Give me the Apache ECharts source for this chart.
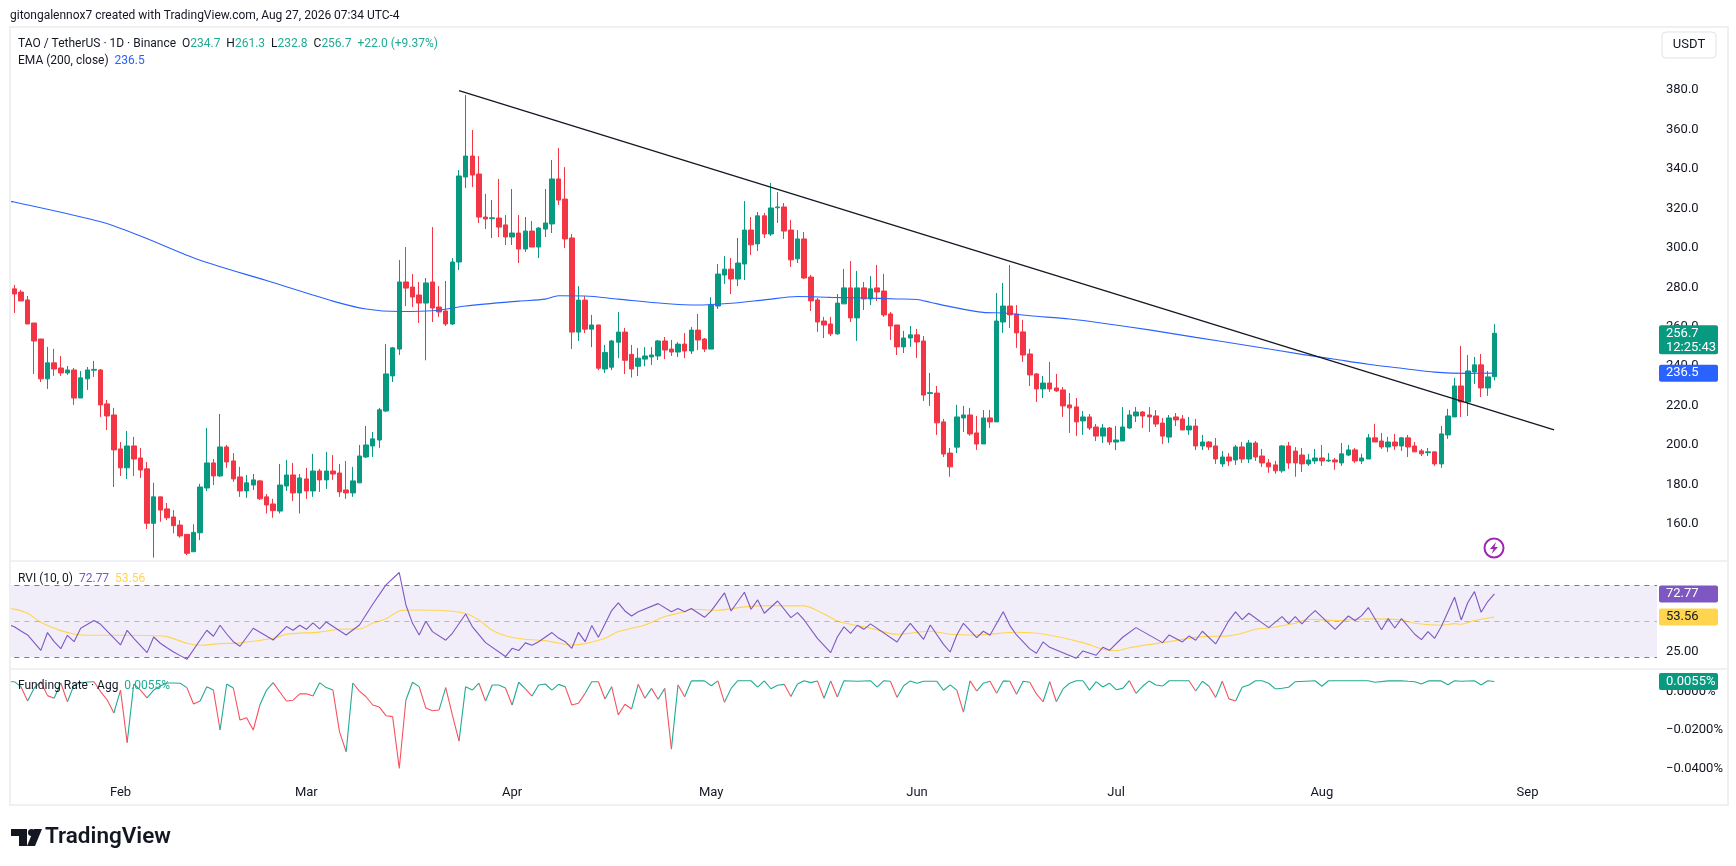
<!DOCTYPE html>
<html><head><meta charset="utf-8">
<style>html,body{margin:0;padding:0;background:#fff}#c{width:1736px;height:866px}</style>
<script src="https://cdn.jsdelivr.net/npm/echarts@6/dist/echarts.min.js"></script>
</head><body><div id="c"></div>
<script>
const monthLabels = {16:'Feb',44:'Mar',75:'Apr',105:'May',136:'Jun',166:'Jul',197:'Aug',228:'Sep'};
const slotCount = 249;
// open, close, low, high
const ohlc = [
[279.2,276.6,267,281.2],[277.6,273.1,273.1,278.7],[273.6,261.4,261.4,275.6],[261.9,252.8,236.1,261.9],[253.8,233.6,232,253.8],
[233.6,241.7,228.5,249.8],[241.7,238.6,235.1,248.8],[239.1,236.6,235.1,245.2],[236.6,238.1,235.6,240.1],[238.1,223.9,220.4,239.1],
[223.9,234.1,223.9,237.6],[233.6,238.1,228,239.6],[238,238.4,234.6,242.7],[238.1,220.4,214.3,238.6],[220.9,214.8,207.7,222.9],
[215.3,197.6,178.8,218.9],[198.1,188.5,184.4,201.6],[188.5,199.6,182.9,207.2],[199.6,193,184.4,204.2],[193.5,187.4,183.4,198.6],
[188,160.4,157.5,191.5],[160.4,173.8,143,180.9],[173.8,167.1,161.2,173.8],[167.7,163.2,162,170.7],[163.6,159.2,155.3,167.1],
[159.5,154,153.1,162],[154.8,145.2,144.3,154.8],[146,155.8,146,159.9],[155.6,178.8,151.9,180.4],[178.3,191,176.8,208.7],
[191,184.4,179.8,193],[184.4,199.1,183.9,215.8],[199.1,191.5,188.5,200.1],[192,182.9,181.4,196],[183.9,176.8,173.8,189],
[176.8,180.9,173.3,184.9],[179.8,182.4,177.3,185.4],[181.9,172.8,172.2,182.4],[173.8,169.7,165.4,175.3],[170.2,166.8,163.2,172.8],
[166.6,179.8,165.4,190.5],[179.3,184.9,176.8,192.5],[184.9,175.8,171.7,191],[175.8,183.4,165.4,185.4],[182.9,176.8,172.8,188.5],
[176.8,186.9,173.8,195.6],[186.9,182.4,176.3,188],[182.4,186.9,177.8,196.6],[186.9,185.4,182.4,195],[185.9,176.3,173.8,190.5],
[177.3,175.8,172.8,192],[175.8,181.9,173.8,189],[180.9,194.5,180.9,200.1],[194,200.1,193.5,209.7],[199.6,203.2,194,206.7],
[202.6,217.9,198.6,218.9],[217.3,236.1,216.8,251.3],[235.1,249.3,232,249.8],[248.7,282.7,245.7,293.8],[282.7,279.6,270.5,300.4],
[280.1,275.1,270,286.7],[276.1,272,261.9,282.7],[272,282.2,243,284.7],[282.7,269.5,262.4,310.5],[270,267.5,265,280.6],
[268,261.4,260.4,283.2],[261.4,292.8,260.9,294.8],[292.8,336.4,288.8,339.4],[335.9,346.5,330.3,377.4],[346.5,336.9,330.8,359.7],
[337.4,315.6,312.6,346.5],[315.6,314.6,309.5,327.3],[314.8,315.2,305,324.2],[315.1,310.5,305.5,334.9],[311.6,305.5,301.4,316.6],
[305.5,307.5,301.4,329.8],[307.5,299.4,292.3,316.6],[299.4,308.5,297.9,315.6],[308.5,300.4,300.4,313.6],[300.4,310,294.8,310.5],
[309.5,312.6,305.5,329.8],[312.1,334.9,307.5,344.5],[334.9,324.2,321.7,350.6],[324.7,304.5,299.9,340.9],[305,257.3,248.7,307],
[257.3,273.5,252.8,280.6],[273.5,258.8,256.8,275.6],[258.8,260.9,249.7,266],[260.9,239,238,261],[238.6,247,236.6,250.8],
[239.5,252.8,238,253.3],[252.2,257.3,244.1,267.5],[257.3,243,236,259.4],[246,238.6,234.3,250.8],[240,244.1,235,249.2],
[243.6,245.2,240,249.7],[244.7,245.7,240.6,249.7],[245.2,252.8,243.1,253.3],[252.8,248.2,243.6,254.8],[248.7,247.2,245.2,253.3],
[247.2,251.2,244.7,252.2],[251.2,247.7,244.1,256.8],[247.7,258.3,246.2,259.9],[258.3,253.3,248.2,266.5],[253.8,248.7,247.2,254.3],
[248.7,271,248.7,275],[270.5,286.7,269,291.8],[286.2,289.2,281.7,295.8],[289.2,284.2,276.6,294.8],[284.2,292.3,280.6,305],
[291.8,309,283.7,323.7],[309,301.5,296.4,315.6],[302,316.2,298.4,318.2],[316.2,307,305,317.7],[307,320.2,306,332.9],
[320.3,320.7,312.6,328.3],[320.7,308.5,304.5,322.7],[309,293.9,290.3,314.1],[294.4,304.5,292.3,309],[304.5,284.7,284.2,308],
[285.2,273.1,268,286.3],[273.6,262.4,257.4,274.6],[262.9,260.9,254.3,265],[261.4,256.4,255.3,265],[256.4,272,255.9,276.6],
[271.6,279.7,271.6,289.3],[279.7,264.5,262.4,293.3],[264.5,279.7,252.8,288.3],[279.7,274.1,268.5,282.7],[274.1,279.2,271,285.7],
[279.7,277.6,273.1,291.3],[278.1,266,265,286.8],[266.5,260.4,253.3,267.5],[260.9,249.8,245.7,260.9],[249.8,254.3,246.7,257.9],
[254.3,255.9,249.8,260.4],[255.9,252.3,244.2,258.9],[252.8,225.4,222.4,255.3],[226.2,226.6,219.9,236.6],[226.4,211.3,205.2,230],
[211.8,195.5,194,213.3],[196,189,184,198.6],[199,214.3,196,220.4],[213.8,215.3,206.7,219.9],[215.3,205.7,204.7,218.9],
[206.2,200.6,197.6,214.8],[200.6,213.8,200.6,217.8],[213.8,211.8,208.7,217.8],[211.8,262.9,211.8,277.1],[262.4,270.5,256.9,282.2],
[270.5,266,259.4,291.3],[266.5,256.9,249.3,271],[257.4,245.7,242.2,263.5],[246.2,235.6,230,248.8],[236.1,228.5,221.9,236.6],
[228.5,231.5,223.9,235.1],[231.5,228.5,227,242.2],[229,227.5,227,236.1],[228,219.9,214.3,229.5],[220.4,218.9,206.2,226.4],
[219.4,211.8,204.7,223.9],[212.3,214.3,205.2,217.3],[214.3,208.7,207.7,215.8],[209.2,204.6,202.1,210.7],[204.6,208.7,201.1,210.7],
[208.7,201.6,200.1,209.2],[201.6,202.6,197.5,209.7],[202.1,209.2,202.1,219.3],[208.7,215.3,208.2,217.8],[214.8,216.8,211.7,219.3],
[216.8,214.8,208.7,217.3],[215.3,214.3,206.7,219.3],[214.8,210.7,209.2,217.8],[211.2,204.6,200.6,213.8],[204.1,213.8,201.1,215.3],
[214.3,212.8,209.7,216.3],[213.3,207.7,207.7,215.3],[207.7,209.7,205.2,214.3],[209.7,199.6,197.5,213.3],[199.6,201.6,197.5,205.2],
[201.6,199.1,197.5,202.1],[199.6,193,190.5,203.6],[190.5,194,189,197],[194,192,189.5,196],[192.5,199.1,190,200.1],
[199.1,193,191,201.6],[193,201.1,191,202.6],[201.1,194,192,202.1],[194.5,191,189,198.1],[191,189,186,193],
[190,187,185.5,192],[187,199.6,186,200],[199.6,191,188,201.6],[197,191,184,199],[195,190.5,186.4,198.6],
[190.5,192.5,189.5,195.6],[192,193.5,190.5,198.1],[193.5,192,189.5,200.1],[192,192.4,191.5,196],[192.5,191.5,187.5,193.5],
[191,195.6,189.5,201.1],[195,197.6,194.5,200.1],[197.6,192,191,198.6],[192,193.5,190.5,195.6],[193,203.7,193,205.7],
[203.7,201.6,201.6,210.8],[202.1,199.1,198.1,206.2],[199.1,201.6,196.6,204.2],[201.6,199.6,197.6,205.7],[199.6,203.7,197.1,204.2],
[203.7,199.1,194,205.2],[199.6,196.6,196.6,201.6],[197.1,195.6,194.5,198.1],[196.2,196.6,194.5,198.6],[196.6,190.5,189.5,196.6],
[190.5,205.7,188.5,209.7],[205.2,214.8,203.2,218.4],[214.3,230,214.3,234.1],[230,221.9,214.3,250.3],[221.9,237.6,214.8,245.7],
[237.1,240.7,231,244.7],[240.7,229,224.4,246.2],[229,234.6,225,237.6],[234.7,256.7,232.8,261.3]
];
// day -1 is the stretch of each line that runs in from the chart's left edge
const emaDays = [-1,0,13,19,28,38,48,53,58,63,68,76,80,82,86,91,98,103,108,113,118,123,128,133,136,138,141,146,149,153,159,164,171,178,186,194,199,204,209,214,219,223];
const emaValues = [323.8,323.2,313.2,306,293.7,283.4,273,269,267.7,268.1,270.5,273,274,275.7,275.6,274,271.8,271,271.9,273.6,275.3,274.9,274.6,274.1,273.8,272.4,270.2,267.3,267,265.6,263.9,261.8,258.4,254.6,250.4,246,243.5,241,239,237,236.4,236.5];
const trendDays = [67,232];
const trendValues = [379.6,207.8];
const rviDays = [-1,0,1,2,4,5,6,7,8,9,10,12,13,16,17,18,20,21,22,23,24,25,26,28,29,30,31,32,33,34,36,39,41,42,43,44,45,46,47,50,52,54,56,58,59,60,61,62,63,65,66,68,69,71,74,75,76,77,78,79,81,82,83,84,85,86,87,88,90,91,92,93,94,97,99,100,101,102,104,105,107,108,110,111,112,113,115,117,118,119,121,123,124,125,126,127,128,129,133,134,135,137,138,140,141,142,143,145,146,147,149,150,151,153,154,155,156,160,161,163,164,165,167,169,173,174,176,177,178,179,181,183,184,185,186,189,191,192,193,194,195,196,199,201,202,203,204,206,207,208,209,211,212,213,214,215,217,218,219,220,221,222,223];
const rviValues = [47.5,45.5,41.9,38.6,25.8,40.6,33,27.2,38.3,33,44.2,50.6,47.5,30.3,42.5,35.8,23.9,36.9,31.7,28,24.4,21.4,18.3,34.4,42.5,37.5,46.7,39.4,33,29.2,44.2,34.4,45.6,42.5,46.7,43.3,48.6,43.6,49.4,38.6,46.9,64.2,80.3,90.6,63.6,48.3,38.6,50,41.4,34.2,40,56.1,45.6,32.2,20.6,27.5,25.6,32,30,33,40.6,36,33,27.5,40.8,33,46.4,36.7,58.9,65.3,58.6,54.4,58,64.7,58,60.6,58,60.6,53.3,58.6,73.6,58.6,74.2,60,67.8,56.7,66.9,53,57.2,51.1,35.8,23.9,36.9,45.3,40,46.7,43.3,47.8,32.8,41.4,48.3,35,46.9,30.8,24.4,38.6,48.3,36.4,41.7,38.3,58,46.4,38.6,27,23.3,32.8,28.3,19.2,25.3,21.7,28.3,25.8,36.7,44.7,32.2,38.6,32.8,37.8,34.2,41.7,31.1,50.6,57.8,51.4,56.7,44.7,53.9,48,53.9,47.8,53.9,58.9,43.3,54.4,50.6,54.7,61.4,43,52.2,44.4,52.2,39.2,34.7,41.4,35.8,45.6,70,51.1,65.6,74.7,57.5,66.4,72.77];
const signalDays = [-1,0,2,4,7,9,11,16,21,23,26,28,31,34,39,41,46,49,52,54,56,58,60,64,68,70,72,74,77,80,84,86,89,91,95,98,101,102,106,110,114,119,122,124,126,129,133,138,141,145,151,155,161,164,166,168,173,179,183,185,187,189,193,195,199,204,209,211,215,217,218,220,221,223];
const signalValues = [60.6,60.1,56.7,49.2,42.2,39.4,38.3,38.3,38,37.2,31.7,30,31.4,32,35.8,39.2,41,43.3,43.6,48.3,52,58.6,59.4,59.2,56.4,51,42.5,38,35,33.9,30.3,31.4,35.8,41.4,46.9,53.9,58,60,59.2,62,63,62.8,56.1,50.3,47.5,44.2,39.2,41.7,39.2,38.6,40.8,39.4,32.2,26.7,25.6,28,32.2,37.2,37.8,40,43.3,44.4,48.3,51.7,50.6,52,51.1,48.3,46.7,48,47.5,50.6,51.7,53.56];
const fundingDays = [-1,0,1,2,3,4,5,6,7,8,9,10,11,12,13,14,15,16,17,18,19,20,21,22,23,24,25,26,27,28,29,30,31,32,33,34,35,36,37,38,39,40,41,42,43,44,45,46,47,48,49,50,51,52,53,54,55,56,57,58,59,60,61,62,63,64,65,66,67,68,69,70,71,72,73,74,75,76,77,78,79,80,81,82,83,84,85,86,87,88,89,90,91,92,93,94,95,96,97,98,99,100,101,102,104,105,106,107,108,109,111,112,113,114,115,116,117,118,119,120,121,122,123,124,125,127,129,130,131,132,133,134,135,136,137,139,140,141,142,143,144,145,146,147,148,149,150,151,152,153,154,155,156,157,158,159,160,161,162,163,164,165,166,167,168,169,170,171,172,173,174,177,178,179,180,181,182,183,184,185,186,187,188,189,190,191,192,193,196,197,198,204,205,207,209,210,211,212,213,215,216,217,218,220,221,222,223];
const fundingValues = [.0054,.0054,.0028,-.0047,.0021,.0054,-.0019,-.0033,.0047,-.0051,.0037,.0047,.0052,.0054,.0002,-.0042,-.0110,.0010,-.0265,.0042,.0010,-.0031,.0010,.0031,.0047,.0047,.0046,.0023,-.0063,-.0047,.0028,.0010,-.0199,.0042,.0021,-.0147,-.0135,-.0199,-.0068,.0010,.0049,0,-.0047,-.0043,-.0010,-.0009,-.0021,.0049,.0023,.0010,-.0209,-.0313,.0047,.0005,-.0025,-.0068,-.0079,-.0124,-.0129,-.0400,-.0042,.0051,.0028,-.0084,-.0098,-.0094,.0023,-.0120,-.0257,.0028,.0010,.0046,-.0047,.0037,.0037,.0021,-.0068,.0051,.0016,-.0021,.0037,.0042,.0010,.0040,.0028,-.0068,-.0059,-.0007,.0054,.0054,-.0037,.0028,-.0120,-.0064,-.0089,.0040,-.0033,.0019,-.0038,.0019,-.0299,.0037,-.0025,.0058,.0058,.0033,.0058,-.0054,.0019,.0059,.0059,.0026,.0058,.0017,.0035,.0040,-.0023,.0042,.0059,.0049,.0058,-.0033,.0058,-.0026,.0059,.0056,.0059,.0025,.0059,.0056,-.0028,.0033,.0058,.0046,.0056,.0056,.0009,.0037,.0010,-.0105,.0058,.0005,.0046,.0056,-.0007,.0058,.0056,-.0012,.0056,.0051,-.0010,-.0051,.0054,-.0051,.0016,.0046,.0059,.0059,.0010,.0054,.0026,.0046,.0012,.0019,.0059,-.0007,.0030,.0058,.0037,.0031,.0059,.0059,.0005,.0056,.0030,-.0028,.0056,-.0036,-.0047,.0025,.0037,.0059,.0059,.0046,.0016,.0020,.0025,.0054,.0059,.0030,.0059,.0059,.0051,.0058,.0059,.0056,.0054,.0042,.0058,.0058,.0038,.0059,.0056,.0059,.0037,.0059,.0055];
const fundingZeroCut = 0.0008; // a segment is red when it ends below this reading
const priceTicks = [160,180,200,220,240,260,280,300,320,340,360,380];
const fundingTicks = [0,-0.02,-0.04];
const lastPrice = 256.7, lastEma = 236.5, lastRvi = 72.77, lastSignal = 53.56, lastFunding = 0.0055;

const FONT = 'Roboto, "Noto Sans", sans-serif';
const INK = '#131722', UP = '#089981', DOWN = '#F23645', TXTUP = '#22ab94';
const GL = 4.36, GR = 79;
const categories = Array.from({length: slotCount}, (_, i) => monthLabels[i-1] || '');
const pair = (d, v) => d.map((x, i) => [x + 1, v[i]]);
const candleRows = [[NaN,NaN,NaN,NaN], ...ohlc];

const greenSeg = [], redSeg = [];
fundingDays.forEach((d, i) => {
  if (i === 0) return;
  const a = [fundingDays[i-1] + 1, fundingValues[i-1]], b = [d + 1, fundingValues[i]];
  const t = b[1] >= fundingZeroCut ? greenSeg : redSeg;
  t.push(a, b, [d + 1, null]);
});

const baseX = (idx, show) => ({type:'category', gridIndex:idx, data:categories, boundaryGap:true, show,
  axisLine:{show:false}, axisTick:{show:false}, splitLine:{show:false},
  axisLabel:{show, interval:0, color:INK, fontFamily:FONT, fontSize:13, margin:6}});
const baseY = (idx, min, max, ticks, fmt) => ({type:'value', gridIndex:idx, position:'right', min, max, scale:true,
  axisLine:{show:false}, axisTick:{show:false}, splitLine:{show:false},
  axisLabel:{customValues:ticks, formatter:fmt, color:INK, fontFamily:FONT, fontSize:13, margin:9, align:'left', padding:[2,0,0,0]}});

const chart = echarts.init(document.getElementById('c'), null, {width:1736, height:866, renderer:'canvas'});
chart.setOption({
  animation:false, backgroundColor:'#fff',
  grid:[
    {left:GL, right:GR, top:27, height:534},
    {left:GL, right:GR, top:561, height:108},
    {left:GL, right:GR, top:669, height:111}
  ],
  xAxis:[baseX(0,false), baseX(1,false), baseX(2,true)],
  yAxis:[
    baseY(0,141.3,411.9,priceTicks,v=>v.toFixed(1)),
    baseY(1,10.25,100.2,[25],v=>v.toFixed(2)),
    baseY(2,-0.04607,0.01204,fundingTicks,v=>v.toFixed(4).replace('-','\u2212')+'%')
  ],
  series:[
    {type:'candlestick', name:'TAO', xAxisIndex:0, yAxisIndex:0, data:candleRows, barWidth:5, z:2,
      itemStyle:{color:UP, color0:DOWN, borderColor:UP, borderColor0:DOWN, borderWidth:1}},
    {type:'line', name:'EMA', xAxisIndex:0, yAxisIndex:0, data:pair(emaDays,emaValues), smooth:0.3, showSymbol:false, z:3,
      lineStyle:{color:'#2962FF', width:1.1}},
    {type:'line', name:'Trend', xAxisIndex:0, yAxisIndex:0, data:pair(trendDays,trendValues), showSymbol:false, z:4,
      lineStyle:{color:'#131722', width:1.3}},
    {type:'line', name:'RVI', xAxisIndex:1, yAxisIndex:1, data:pair(rviDays,rviValues), showSymbol:false, z:4,
      lineStyle:{color:'#7E57C2', width:1.1},
      markArea:{silent:true, itemStyle:{color:'rgba(126,87,194,0.1)'}, data:[[{yAxis:20},{yAxis:80}]]},
      markLine:{silent:true, symbol:'none', label:{show:false}, data:[
        {yAxis:80, lineStyle:{color:'#787B86', type:[5,5], width:1}},
        {yAxis:50, lineStyle:{color:'rgba(120,123,134,0.5)', type:[5,5], width:1}},
        {yAxis:20, lineStyle:{color:'#787B86', type:[5,5], width:1}}]}},
    {type:'line', name:'Signal', xAxisIndex:1, yAxisIndex:1, data:pair(signalDays,signalValues), smooth:0.3, showSymbol:false, z:3,
      lineStyle:{color:'#FFD54F', width:1.1}},
    {type:'line', name:'Funding above zero', xAxisIndex:2, yAxisIndex:2, data:greenSeg, showSymbol:false, connectNulls:false, z:3,
      lineStyle:{color:'#22ab94', width:1.1}},
    {type:'line', name:'Funding below zero', xAxisIndex:2, yAxisIndex:2, data:redSeg, showSymbol:false, connectNulls:false, z:3,
      lineStyle:{color:'#f7525f', width:1.1}}
  ]
});

const py = (i, v) => chart.convertToPixel({yAxisIndex:i}, v);
const TX = 1659, TW = 59;
const tag = (yc, h, fill, label, fg) => [
  {type:'rect', z:50, shape:{x:TX, y:yc-h/2, width:TW, height:h, r:2}, style:{fill}},
  {type:'text', z:51, style:{x:TX+7, y:yc, text:label, fill:fg, font:'13px '+FONT, verticalAlign:'middle'}}
];
const legend = (x, y, text, rich) => ({type:'text', z:60, style:{x, y, text, verticalAlign:'middle',
  font:'12px '+FONT, fill:INK, rich}});
const r = (c) => ({fill:c, font:'12px '+FONT});
const sep = (y) => ({type:'line', z:1, shape:{x1:10, y1:y, x2:1728, y2:y}, style:{stroke:'#e0e3eb', lineWidth:1}});
const yPrice = py(0,lastPrice);

chart.setOption({graphic:{elements:[
  {type:'rect', z:45, shape:{x:0, y:27, width:9.5, height:778}, style:{fill:'#fff'}},
  {type:'rect', z:46, shape:{x:10, y:27, width:1718, height:778}, style:{fill:'none', stroke:'#f0f0f0', lineWidth:2}},
  sep(561), sep(669),
  {type:'text', style:{x:10, y:16, text:'gitongalennox7 created with TradingView.com, Aug 27, 2026 07:34 UTC-4', fill:INK, font:'12px '+FONT, verticalAlign:'middle'}},
  legend(18,43.5,'TAO / TetherUS · 1D · Binance  O{g|234.7}  H{g|261.3}  L{g|232.8}  C{g|256.7}  {g|+22.0 (+9.37%)}',{g:r(TXTUP)}),
  legend(18,60.5,'EMA (200, close)  {b|236.5}',{b:r('#2962FF')}),
  legend(18,578.5,'RVI (10, 0)  {p|72.77}  {y|53.56}',{p:r('#7E57C2'),y:r('#FFD54F')}),
  legend(18,686,'Funding Rate · Agg  {g|0.0055%}',{g:r(TXTUP)}),
  {type:'rect', z:40, shape:{x:1662, y:32, width:54, height:26, r:4}, style:{fill:'#fff', stroke:'#e0e3eb'}},
  {type:'text', z:41, style:{x:1689, y:45, text:'USDT', fill:INK, font:'13px '+FONT, align:'center', verticalAlign:'middle'}},
  {type:'rect', z:50, shape:{x:TX, y:yPrice-8, width:TW, height:29, r:2}, style:{fill:UP}},
  {type:'text', z:51, style:{x:TX+7, y:yPrice, text:lastPrice.toFixed(1), fill:'#fff', font:'13px '+FONT, verticalAlign:'middle'}},
  {type:'text', z:51, style:{x:TX+7, y:yPrice+14, text:'12:25:43', fill:'#fff', font:'13px '+FONT, verticalAlign:'middle'}},
  ...tag(py(0,lastEma),17,'#2962FF',lastEma.toFixed(1),'#fff'),
  ...tag(py(1,lastRvi),17,'#7E57C2',lastRvi.toFixed(2),'#fff'),
  ...tag(py(1,lastSignal),17,'#FFD54F',lastSignal.toFixed(2),INK),
  ...tag(py(2,lastFunding),17,UP,lastFunding.toFixed(4)+'%','#fff'),
  {type:'circle', z:40, shape:{cx:1494, cy:548, r:9.5}, style:{fill:'#fff', stroke:'#9C27B0', lineWidth:2}},
  {type:'polygon', z:41, shape:{points:[[1496,542],[1490,549],[1493.5,549],[1491.5,554],[1498,547],[1494.5,547]]}, style:{fill:'#9C27B0'}},
  {type:'polygon', z:40, shape:{points:[[11,829],[27,829],[27,846],[19,846],[19,836],[11,836]]}, style:{fill:INK}},
  {type:'circle', z:40, shape:{cx:31.5, cy:832.5, r:3.5}, style:{fill:INK}},
  {type:'polygon', z:40, shape:{points:[[34,829],[42,829],[35,846],[27,846]]}, style:{fill:INK}},
  {type:'text', z:40, style:{x:45, y:837, text:'TradingView', fill:INK, font:'600 22.5px '+FONT, verticalAlign:'middle'}}
]}});
</script></body></html>
